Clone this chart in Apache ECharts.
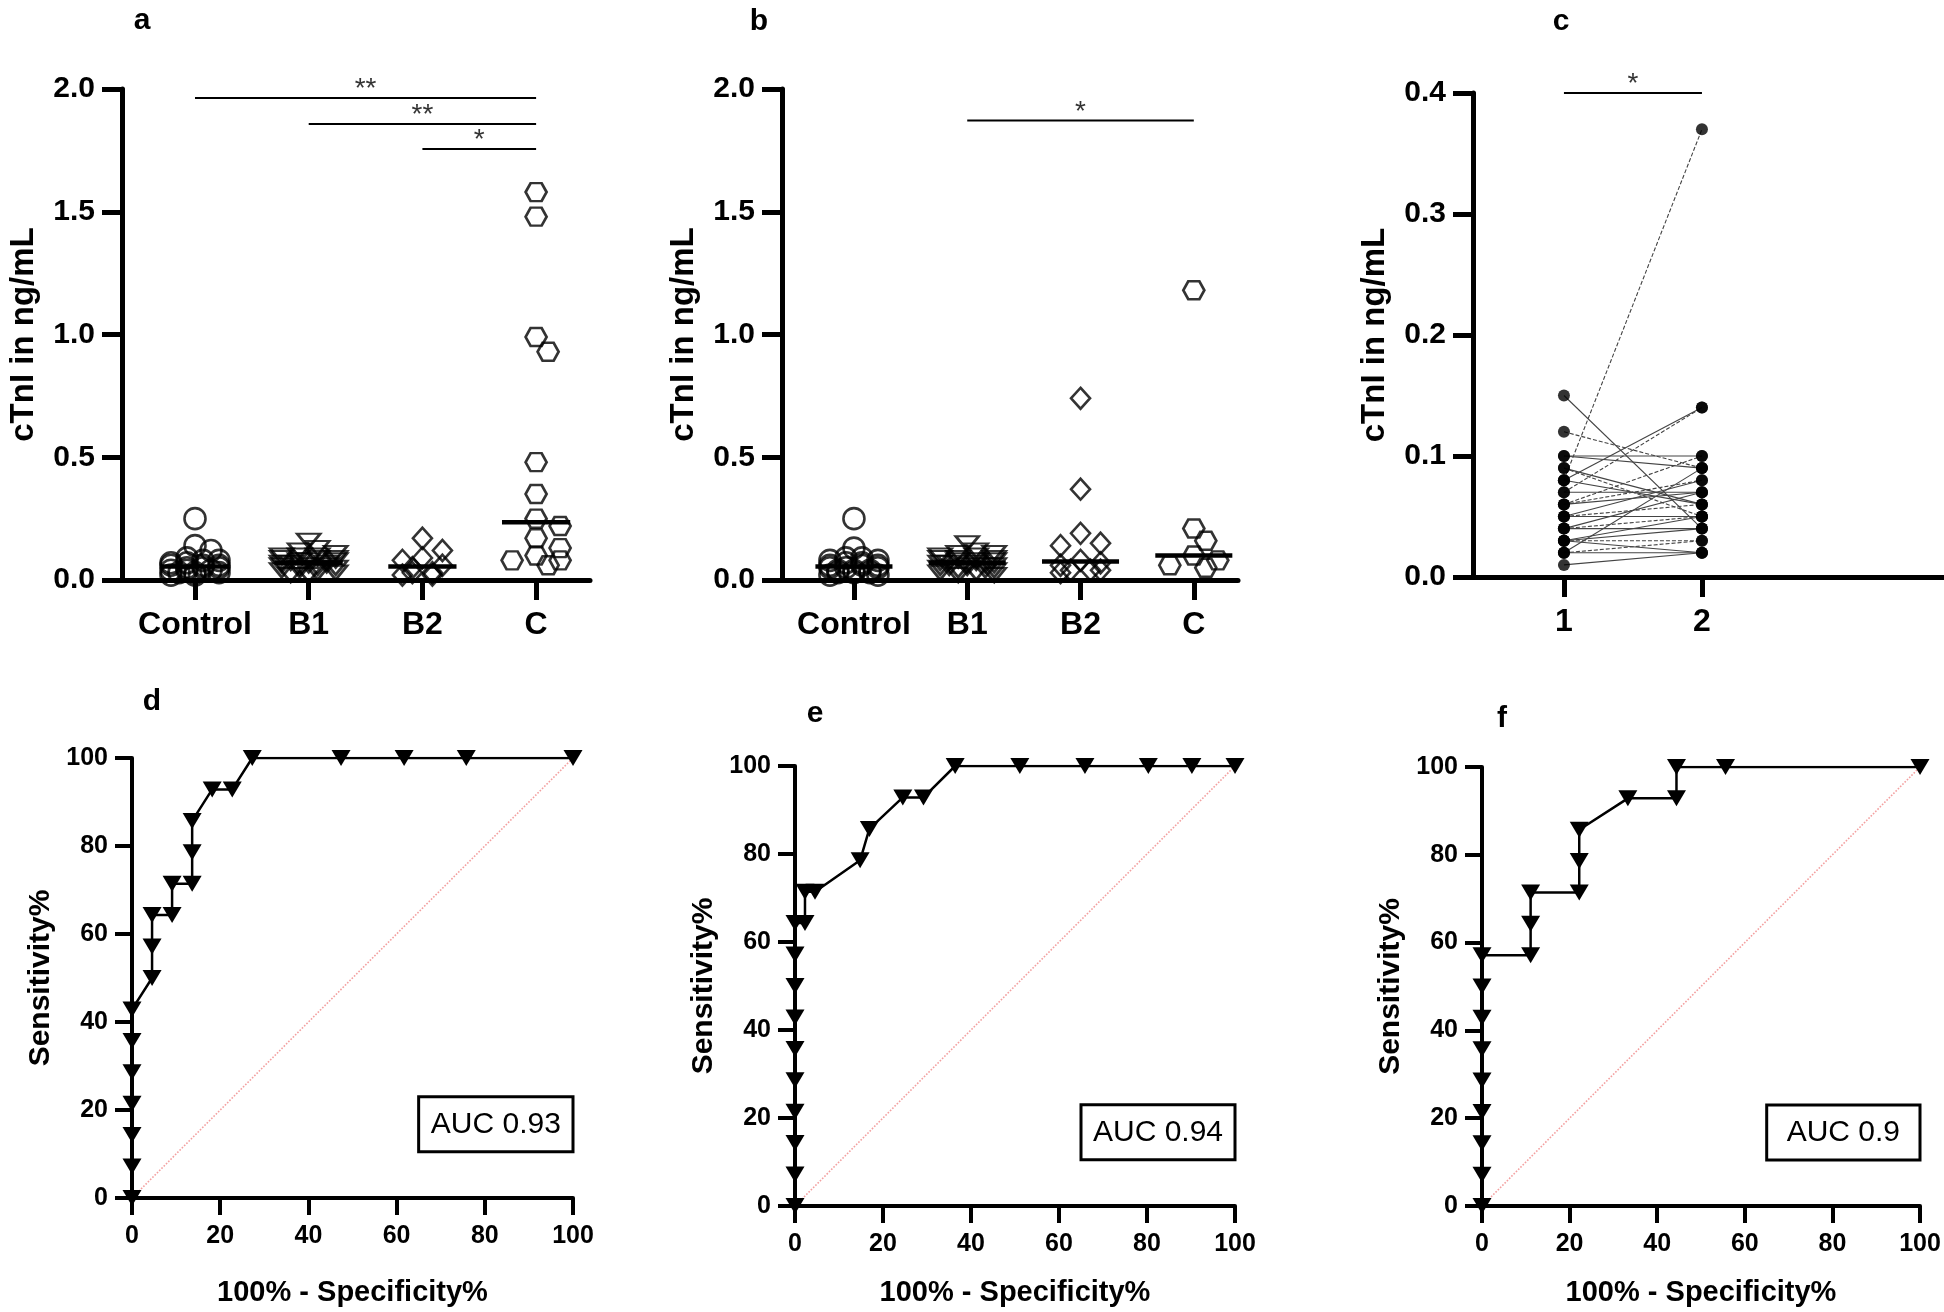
<!DOCTYPE html>
<html><head><meta charset="utf-8">
<script src="https://cdn.jsdelivr.net/npm/echarts@6/dist/echarts.min.js"></script>
<style>html,body{margin:0;padding:0;background:#fff}#chart{width:1944px;height:1312px}</style>
</head><body><div id="chart"></div>
<script>
// ---------------- DATA ----------------
const groups = ['Control', 'B1', 'B2', 'C'];
const yTicksAB = ['0.0', '0.5', '1.0', '1.5', '2.0'];
const yTicksC = ['0.0', '0.1', '0.2', '0.3', '0.4'];
const pairLabels = ['1', '2'];

// panel a (cTnI, ng/mL)
const aControl = [0.25, 0.14, 0.12, 0.09, 0.08, 0.08, 0.07, 0.07, 0.06, 0.06, 0.06, 0.05, 0.05, 0.05, 0.04, 0.04, 0.04, 0.03, 0.03, 0.03, 0.02, 0.02];
const aB1 = [0.16, 0.13, 0.12, 0.11, 0.10, 0.10, 0.10, 0.09, 0.09, 0.09, 0.08, 0.08, 0.08, 0.07, 0.07, 0.07, 0.06, 0.06, 0.06, 0.05, 0.05, 0.05, 0.04, 0.04, 0.03, 0.03, 0.02, 0.02];
const aB2 = [0.17, 0.12, 0.09, 0.08, 0.06, 0.05, 0.03, 0.03, 0.02, 0.02];
const aC = [1.58, 1.48, 0.99, 0.93, 0.48, 0.35, 0.25, 0.22, 0.17, 0.13, 0.10, 0.08, 0.08, 0.06];

// panel b
const bControl = [0.25, 0.13, 0.09, 0.09, 0.08, 0.08, 0.07, 0.07, 0.06, 0.06, 0.06, 0.05, 0.05, 0.05, 0.04, 0.04, 0.04, 0.03, 0.03, 0.03, 0.02, 0.02];
const bB1 = [0.15, 0.12, 0.11, 0.11, 0.10, 0.10, 0.09, 0.09, 0.09, 0.08, 0.08, 0.08, 0.07, 0.07, 0.07, 0.06, 0.06, 0.06, 0.05, 0.05, 0.05, 0.04, 0.04, 0.04, 0.03, 0.03, 0.02, 0.02];
const bB2 = [0.74, 0.37, 0.19, 0.15, 0.14, 0.08, 0.07, 0.06, 0.04, 0.04, 0.04, 0.03];
const bC = [1.18, 0.21, 0.16, 0.10, 0.08, 0.06, 0.05];

// significance brackets: [from group, to group, level, stars]
const aSig = [[1, 4, 1.963, '**'], [2, 4, 1.857, '**'], [3, 4, 1.756, '*']];
const bSig = [[2, 4, 1.872, '*']];
const cSig = [[1, 2, 0.40, '*']];

// panel c paired values
const cFirst = [0.15, 0.12, 0.10, 0.10, 0.09, 0.08, 0.08, 0.07, 0.08, 0.07, 0.06, 0.06, 0.05, 0.05, 0.05, 0.04, 0.04, 0.04, 0.03, 0.03, 0.03, 0.02, 0.02, 0.02, 0.01, 0.06, 0.09, 0.03];
const cSecond = [0.04, 0.09, 0.10, 0.09, 0.05, 0.37, 0.14, 0.14, 0.06, 0.07, 0.08, 0.07, 0.08, 0.06, 0.05, 0.07, 0.05, 0.04, 0.04, 0.03, 0.05, 0.09, 0.03, 0.02, 0.02, 0.10, 0.06, 0.02];

// ROC curves: x = 100% - Specificity%, y = Sensitivity%
const dFpr = [0, 0, 0, 0, 0, 0, 0, 4.55, 4.55, 4.55, 9.09, 9.09, 13.64, 13.64, 13.64, 18.18, 22.73, 27.27, 47.4, 61.7, 75.8, 100];
const dTpr = [0, 7.14, 14.29, 21.43, 28.57, 35.71, 42.86, 50, 57.14, 64.29, 64.29, 71.43, 71.43, 78.57, 85.71, 92.86, 92.86, 100, 100, 100, 100, 100];
const eFpr = [0, 0, 0, 0, 0, 0, 0, 0, 0, 0, 2.27, 2.27, 4.55, 14.8, 16.9, 24.5, 29.2, 36.4, 51.1, 65.9, 80.3, 90.2, 100];
const eTpr = [0, 7.14, 14.29, 21.43, 28.57, 35.71, 42.86, 50, 57.14, 64.29, 64.29, 71.43, 71.43, 78.57, 85.71, 92.86, 92.86, 100, 100, 100, 100, 100, 100];
const fFpr = [0, 0, 0, 0, 0, 0, 0, 0, 0, 11.1, 11.1, 11.1, 22.2, 22.2, 22.2, 33.3, 44.4, 44.4, 55.6, 100];
const fTpr = [0, 7.14, 14.29, 21.43, 28.57, 35.71, 42.86, 50, 57.14, 57.14, 64.29, 71.43, 71.43, 78.57, 85.71, 92.86, 92.86, 100, 100, 100];
const aucLabels = ['AUC 0.93', 'AUC 0.94', 'AUC 0.9'];

// ---------------- LAYOUT / STYLE ----------------
const FONT = 'Liberation Sans, Arial, Helvetica, sans-serif';
const grids = [
  {left: 122, top: 89, width: 468, height: 491},
  {left: 782, top: 89, width: 456, height: 491},
  {left: 1473, top: 93, width: 471, height: 484},
  {left: 132, top: 758, width: 441, height: 440},
  {left: 795, top: 766, width: 440, height: 440},
  {left: 1482, top: 767, width: 438, height: 439}
];
const xRangeA = [0.358, 4.474], xRangeB = [0.365, 4.39], xRangeC = [0.341, 3.754];
const aucBox = [[65, 10.5], [100, 23]];
const rocNameGap = [80, 72, 72];

const triDown = 'path://M0,0L24,0L12,14Z';
const hexagon = 'path://M0,9L5,0L16,0L21,9L16,18L5,18Z';
const rocTri = 'path://M0,0L18,0L9,15Z';
const shapes = [
  {symbol: 'circle', size: 21, w: 21, h: 21, step: 8, K: 3, f: 0.6},
  {symbol: triDown, size: [23, 14], w: 23, h: 14, step: 9, K: 3, f: 0.6},
  {symbol: 'diamond', size: [19, 21], w: 19, h: 21, step: 10, K: 2, f: 0.8},
  {symbol: hexagon, size: [21, 18], w: 21, h: 18, step: 12, K: 2, f: 0.85}
];

// deterministic beeswarm layout (pixel based)
function swarm(values, cat, pxX, pxY, s) {
  const order = values.map((v, i) => i).sort((i, j) => values[j] - values[i]);
  const placed = [];
  const out = new Array(values.length);
  order.forEach(i => {
    const v = values[i];
    let best = 0, bestCost = Infinity;
    for (let k = 0; k <= 2 * s.K; k++) {
      const m = k === 0 ? 0 : (k % 2 ? (k + 1) / 2 : -k / 2);
      const dx0 = m * s.step;
      let cost = 0;
      placed.forEach(p => {
        const dx = (dx0 - p.dx) / (s.w * s.f), dy = (v - p.v) * pxY / (s.h * s.f);
        const d2 = dx * dx + dy * dy;
        if (d2 < 1) cost += 1 - d2;
      });
      if (cost === 0) { best = dx0; bestCost = 0; break; }
      if (cost < bestCost - 1e-9) { bestCost = cost; best = dx0; }
    }
    placed.push({dx: best, v});
    out[i] = [cat + best / pxX, v];
  });
  return out;
}
function median(arr) {
  const s = arr.slice().sort((a, b) => a - b);
  const n = s.length;
  return n % 2 ? s[(n - 1) / 2] : (s[n / 2 - 1] + s[n / 2]) / 2;
}

const series = [];
function groupPanel(gi, sets, pxX, pxY, halfMed) {
  sets.forEach((vals, k) => {
    const s = shapes[k];
    series.push({
      type: 'scatter', xAxisIndex: gi, yAxisIndex: gi, silent: true,
      symbol: s.symbol, symbolSize: s.size,
      itemStyle: {color: 'rgba(0,0,0,0)', borderColor: '#000', borderWidth: 2.6},
      data: swarm(vals, k + 1, pxX, pxY, s), z: 3
    });
    const m = median(vals);
    series.push({
      type: 'line', xAxisIndex: gi, yAxisIndex: gi, silent: true, symbol: 'none',
      lineStyle: {color: '#000', width: 4.5}, data: [[k + 1 - halfMed, m], [k + 1 + halfMed, m]], z: 5
    });
  });
}
function sigPanel(gi, sig) {
  sig.forEach(b => {
    series.push({
      type: 'line', xAxisIndex: gi, yAxisIndex: gi, silent: true, symbol: 'none',
      lineStyle: {color: '#000', width: 2}, data: [[b[0], b[2]], [b[1], b[2]]], z: 4
    });
    series.push({
      type: 'scatter', xAxisIndex: gi, yAxisIndex: gi, silent: true, symbolSize: 1, clip: false,
      itemStyle: {color: 'rgba(0,0,0,0)'},
      label: {show: true, position: 'top', distance: -6, formatter: b[3], fontSize: 28, color: '#000', fontFamily: FONT},
      data: [[(b[0] + b[1]) / 2, b[2]]], z: 4
    });
  });
}
groupPanel(0, [aControl, aB1, aB2, aC], 113.7, 245.5, 0.3);
groupPanel(1, [bControl, bB1, bB2, bC], 113.3, 245.5, 0.34);
sigPanel(0, aSig);
sigPanel(1, bSig);
sigPanel(2, cSig);

// panel c
cFirst.forEach((v, i) => {
  series.push({
    type: 'line', xAxisIndex: 2, yAxisIndex: 2, silent: true, symbol: 'none',
    lineStyle: {color: '#444', width: 1.1, type: (cSecond[i] - v > 0.2 || i % 3 === 1) ? [4, 2] : 'solid'},
    data: [[1, v], [2, cSecond[i]]], z: 2
  });
});
series.push({
  type: 'scatter', xAxisIndex: 2, yAxisIndex: 2, silent: true, symbol: 'circle', symbolSize: 12,
  itemStyle: {color: '#000'},
  data: cFirst.map(v => [1, v]).concat(cSecond.map(v => [2, v])), z: 3
});

// ROC panels
[[dFpr, dTpr], [eFpr, eTpr], [fFpr, fTpr]].forEach((r, k) => {
  const gi = 3 + k;
  series.push({
    type: 'line', xAxisIndex: gi, yAxisIndex: gi, silent: true, symbol: 'none',
    lineStyle: {color: '#f3a0a0', width: 1.6, type: 'dotted'}, data: [[0, 0], [100, 100]], z: 2
  });
  series.push({
    type: 'line', xAxisIndex: gi, yAxisIndex: gi, silent: true, symbol: rocTri, symbolSize: [19, 16],
    showAllSymbol: true, itemStyle: {color: '#000'}, lineStyle: {color: '#000', width: 2.5},
    data: r[0].map((x, i) => [x, r[1][i]]), z: 3,
    markArea: {
      silent: true,
      itemStyle: {color: '#fff', borderColor: '#000', borderWidth: 3},
      label: {show: true, position: 'inside', fontSize: 30, color: '#000', fontFamily: FONT},
      data: [[{name: aucLabels[k], coord: aucBox[0]}, {coord: aucBox[1]}]]
    }
  });
});

// ---------------- AXES ----------------
function baseAxis(w, tickLen) {
  return {
    axisLine: {show: true, onZero: false, lineStyle: {color: '#000', width: w}},
    axisTick: {show: true, inside: false, length: tickLen, lineStyle: {color: '#000', width: w}},
    splitLine: {show: false}
  };
}
function catX(gi, range, cats, labels) {
  const b = baseAxis(5, 20);
  b.axisTick.customValues = cats;
  return Object.assign(b, {
    gridIndex: gi, type: 'value', min: range[0], max: range[1],
    axisLabel: {customValues: cats, formatter: v => labels[Math.round(v) - 1], fontSize: 32, fontWeight: 'bold', color: '#000', margin: 29, fontFamily: FONT}
  });
}
function valY(gi, max, interval, labels) {
  return Object.assign(baseAxis(5, 20), {
    gridIndex: gi, type: 'value', min: 0, max: max, interval: interval,
    axisLabel: {formatter: (v) => labels[Math.round(v / interval)], fontSize: 30, fontWeight: 'bold', color: '#000', margin: 27, fontFamily: FONT},
    name: 'cTnI in ng/mL', nameLocation: 'middle', nameGap: 82,
    nameTextStyle: {fontSize: 33, fontWeight: 'bold', color: '#000', fontFamily: FONT}
  });
}
function rocX(gi, gap) {
  return Object.assign(baseAxis(4, 17), {
    gridIndex: gi, type: 'value', min: 0, max: 100, interval: 20,
    axisLabel: {fontSize: 25, fontWeight: 'bold', color: '#000', margin: 26, fontFamily: FONT},
    name: '100% - Specificity%', nameLocation: 'middle', nameGap: gap,
    nameTextStyle: {fontSize: 29, fontWeight: 'bold', color: '#000', fontFamily: FONT}
  });
}
function rocY(gi) {
  return Object.assign(baseAxis(4, 17), {
    gridIndex: gi, type: 'value', min: 0, max: 100, interval: 20,
    axisLabel: {fontSize: 25, fontWeight: 'bold', color: '#000', margin: 24, fontFamily: FONT},
    name: 'Sensitivity%', nameLocation: 'middle', nameGap: 76,
    nameTextStyle: {fontSize: 30, fontWeight: 'bold', color: '#000', fontFamily: FONT}
  });
}

const letters = [['a', 142, 21], ['b', 759, 22], ['c', 1561, 22], ['d', 152, 702], ['e', 815, 714], ['f', 1502, 719]];

const option = {
  animation: false,
  backgroundColor: '#fff',
  grid: grids.map(g => Object.assign({outerBoundsMode: 'none', containLabel: false}, g)),
  xAxis: [catX(0, xRangeA, [1, 2, 3, 4], groups), catX(1, xRangeB, [1, 2, 3, 4], groups), catX(2, xRangeC, [1, 2], pairLabels), rocX(3, rocNameGap[0]), rocX(4, rocNameGap[1]), rocX(5, rocNameGap[2])],
  yAxis: [valY(0, 2, 0.5, yTicksAB), valY(1, 2, 0.5, yTicksAB), valY(2, 0.4, 0.1, yTicksC), rocY(3), rocY(4), rocY(5)],
  series: series,
  graphic: letters.map(l => ({
    type: 'text', x: l[1], y: l[2], silent: true,
    style: {text: l[0], fontSize: 30, fontWeight: 'bold', fontFamily: FONT, fill: '#000', align: 'center', verticalAlign: 'middle', textAlign: 'center', textVerticalAlign: 'middle'}
  }))
};
const chart = echarts.init(document.getElementById('chart'), null, {renderer: 'canvas'});
chart.setOption(option);
</script></body></html>
